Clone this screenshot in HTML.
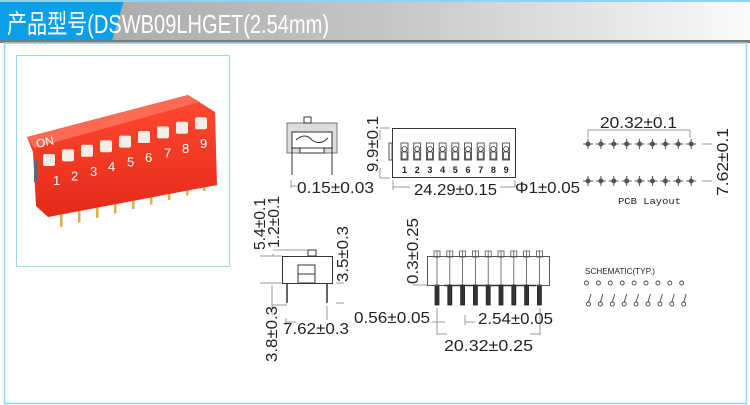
<!DOCTYPE html>
<html><head><meta charset="utf-8"><style>
html,body{margin:0;padding:0;background:#fff}
svg{display:block}
text{font-family:"Liberation Sans","Noto Sans CJK SC",sans-serif;fill:#222}
</style></head><body>
<svg width="750" height="405" viewBox="0 0 750 405" xmlns="http://www.w3.org/2000/svg">
<defs>
<linearGradient id="g" x1="0" x2="1" y1="0" y2="0">
<stop offset="0" stop-color="#a2a2a2"/><stop offset="0.5" stop-color="#c4c4c4"/><stop offset="1" stop-color="#fafafa"/>
</linearGradient>
<linearGradient id="red" x1="0" y1="0" x2="0" y2="1"><stop offset="0" stop-color="#ff4a30"/><stop offset="1" stop-color="#e42a18"/></linearGradient>
</defs>
<rect x="0" y="0" width="750" height="41" fill="url(#g)"/>
<polygon points="0,0 124,0 112,41 0,41" fill="#0aa0e8"/>
<rect x="0" y="0" width="750" height="2" fill="#8fd3f3"/>
<rect x="0" y="40" width="750" height="3" fill="#7a7a7a"/>
<text x="7" y="33" font-size="26" style="fill:#fff" textLength="322" lengthAdjust="spacingAndGlyphs">产品型号(DSWB09LHGET(2.54mm)</text>
<rect x="4.5" y="43" width="742" height="360.5" fill="none" stroke="#8dd6f5" stroke-width="1.5"/>
<rect x="16.5" y="55.5" width="213" height="211" fill="#fff" stroke="#9bd9f5" stroke-width="1"/>
<!-- photo -->
<g transform="translate(0 40)">
<g fill="#d9b24a">
<rect x="60" y="174" width="2.5" height="13"/><rect x="78" y="169.5" width="2.5" height="13"/><rect x="96" y="165" width="2.5" height="13"/><rect x="114" y="160.5" width="2.5" height="13"/><rect x="132" y="156" width="2.5" height="13"/><rect x="150" y="151.5" width="2.5" height="13"/><rect x="168" y="147" width="2.5" height="13"/><rect x="186" y="142.5" width="2.5" height="13"/><rect x="203" y="138" width="2.5" height="13"/>
</g>
<polygon points="27,97 188,55 215,72 217,145 48,177 36,166 33,112" fill="url(#red)"/>
<polygon points="27,97 188,55 200,62 34,108" fill="#ff6a52"/>
<rect x="34" y="120" width="4" height="22" fill="#666"/>
<text x="37" y="108" font-size="12" style="fill:#fff" transform="rotate(-12 37 108)">ON</text>
<g fill="#f5eee8">
<rect x="43" y="114" width="12" height="12" rx="2"/><rect x="62" y="109.4" width="12" height="12" rx="2"/><rect x="81" y="104.8" width="12" height="12" rx="2"/><rect x="100" y="100.2" width="12" height="12" rx="2"/><rect x="119" y="95.6" width="12" height="12" rx="2"/><rect x="138" y="91" width="12" height="12" rx="2"/><rect x="157" y="86.4" width="12" height="12" rx="2"/><rect x="176" y="81.8" width="12" height="12" rx="2"/><rect x="195" y="77.2" width="12" height="12" rx="2"/>
</g>
<g font-size="13">
<text x="53" y="145" style="fill:#fff">1</text><text x="71" y="140.4" style="fill:#fff">2</text><text x="90" y="135.8" style="fill:#fff">3</text><text x="108" y="131.2" style="fill:#fff">4</text><text x="127" y="126.6" style="fill:#fff">5</text><text x="145" y="122" style="fill:#fff">6</text><text x="164" y="117.4" style="fill:#fff">7</text><text x="182" y="112.8" style="fill:#fff">8</text><text x="200" y="108.2" style="fill:#fff">9</text>
</g>
</g>
<!-- side view top -->
<g stroke="#333" fill="none">
<rect x="287" y="123" width="50" height="30" fill="#ddd" stroke="#777"/>
<rect x="292" y="132" width="40" height="16" fill="#fff"/>
<rect x="304" y="117" width="7" height="6" fill="#fff"/>
<path d="M296 140 Q305 132 312 140 Q320 146 328 138" />
<rect x="300" y="148" width="24" height="5" fill="#fff"/>
<line x1="292" y1="148" x2="292" y2="175"/><line x1="332" y1="148" x2="332" y2="175"/>
</g>
<line x1="291" y1="180" x2="291" y2="188" stroke="#999"/>
<line x1="291" y1="186" x2="297" y2="186" stroke="#999"/>
<text x="297" y="193" font-size="16" textLength="77" lengthAdjust="spacingAndGlyphs">0.15±0.03</text>
<!-- top view -->
<rect x="392.5" y="128.5" width="123" height="49" fill="#fff" stroke="#333"/>
<rect x="389" y="143" width="3" height="17" fill="#fff" stroke="#555"/>
<g stroke="#333" fill="#fff" stroke-width="0.8">
<g id="sw"><rect x="401" y="143" width="7" height="17"/><circle cx="404.5" cy="149" r="2.5"/><rect x="402" y="152" width="5" height="7"/></g>
<use href="#sw" x="12.7"/><use href="#sw" x="25.4"/><use href="#sw" x="38.1"/><use href="#sw" x="50.8"/><use href="#sw" x="63.5"/><use href="#sw" x="76.2"/><use href="#sw" x="88.9"/><use href="#sw" x="101.6"/>
</g>
<g font-size="9" font-weight="bold">
<text x="402" y="173">1</text><text x="414.7" y="173">2</text><text x="427.4" y="173">3</text><text x="440.1" y="173">4</text><text x="452.8" y="173">5</text><text x="465.5" y="173">6</text><text x="478.2" y="173">7</text><text x="490.9" y="173">8</text><text x="503.6" y="173">9</text>
</g>
<g stroke="#999" fill="none"><path d="M380 128H390M380 178H390M380 130V140M380 168V178M393 180V190M393 187H410M500 187H515M515 180V187"/></g>
<text transform="translate(378 172) rotate(-90)" font-size="16" textLength="56" lengthAdjust="spacingAndGlyphs">9.9±0.1</text>
<text x="414" y="195" font-size="16" textLength="83" lengthAdjust="spacingAndGlyphs">24.29±0.15</text>
<text x="515" y="193" font-size="16" textLength="65" lengthAdjust="spacingAndGlyphs">Φ1±0.05</text>
<!-- PCB -->
<g stroke="#999" fill="none"><path d="M588 138V130H690V138M702 144H712M702 181H712"/></g>
<text x="600" y="128" font-size="16" textLength="77" lengthAdjust="spacingAndGlyphs">20.32±0.1</text>
<text transform="translate(728 196) rotate(-90)" font-size="16" textLength="68" lengthAdjust="spacingAndGlyphs">7.62±0.1</text>
<g fill="#555" stroke="#555">
<g id="pp"><path d="M583 144H593M588 139V149" stroke-width="1"/><circle cx="588" cy="144" r="2"/></g>
<use href="#pp" x="12.9"/><use href="#pp" x="25.8"/><use href="#pp" x="38.7"/><use href="#pp" x="51.6"/><use href="#pp" x="64.5"/><use href="#pp" x="77.4"/><use href="#pp" x="90.3"/><use href="#pp" x="103.2"/>
<use href="#pp" y="37"/><use href="#pp" x="12.9" y="37"/><use href="#pp" x="25.8" y="37"/><use href="#pp" x="38.7" y="37"/><use href="#pp" x="51.6" y="37"/><use href="#pp" x="64.5" y="37"/><use href="#pp" x="77.4" y="37"/><use href="#pp" x="90.3" y="37"/><use href="#pp" x="103.2" y="37"/>
</g>
<text x="618" y="204" font-size="9.5" style="font-family:'Liberation Mono',monospace" textLength="63" lengthAdjust="spacingAndGlyphs">PCB Layout</text>
<!-- side view bottom -->
<g stroke="#333" fill="#fff">
<rect x="308" y="250" width="8" height="6"/>
<rect x="282.5" y="256.5" width="50" height="27"/>
<rect x="298" y="265" width="17" height="18"/>
<line x1="298" y1="274" x2="315" y2="274"/>
<line x1="287" y1="283" x2="287" y2="303" stroke-width="1.5"/><line x1="327" y1="283" x2="327" y2="303" stroke-width="1.5"/>
</g>
<g stroke="#999" fill="none"><path d="M260 256H282M260 283H282M273 250H308M273 254V256M272 285V315M272 305H287M286 318V325M327 306V320M336 283H344M336 303H344M286 322H296"/></g>
<text transform="translate(265 250) rotate(-90)" font-size="16" textLength="52" lengthAdjust="spacingAndGlyphs">5.4±0.1</text>
<text transform="translate(279 248) rotate(-90)" font-size="16" textLength="52" lengthAdjust="spacingAndGlyphs">1.2±0.1</text>
<text transform="translate(348 282) rotate(-90)" font-size="16" textLength="56" lengthAdjust="spacingAndGlyphs">3.5±0.3</text>
<text transform="translate(277 362) rotate(-90)" font-size="16" textLength="56" lengthAdjust="spacingAndGlyphs">3.8±0.3</text>
<text x="283" y="334" font-size="16" textLength="66" lengthAdjust="spacingAndGlyphs">7.62±0.3</text>
<!-- front view -->
<g stroke="#555" fill="#fff" stroke-width="0.8">
<g id="pt"><rect x="434" y="251" width="6" height="6"/><line x1="437" y1="251" x2="437" y2="285"/><rect x="435" y="285" width="4" height="20" fill="#333" stroke="#222"/></g>
<use href="#pt" x="12.8"/><use href="#pt" x="25.6"/><use href="#pt" x="38.4"/><use href="#pt" x="51.2"/><use href="#pt" x="64"/><use href="#pt" x="76.8"/><use href="#pt" x="89.6"/><use href="#pt" x="102.4"/>
</g>
<rect x="427.5" y="256.5" width="122" height="29" fill="none" stroke="#555"/>
<line x1="444" y1="285.5" x2="536" y2="285.5" stroke="#333" stroke-width="1.5"/>
<g stroke="#999" fill="none"><path d="M413 285H427M437 308V335M540 308V335M437 334H447M530 334H540M432 322H445M465 315V325M465 322H475"/></g>
<text transform="translate(418 284) rotate(-90)" font-size="16" textLength="66" lengthAdjust="spacingAndGlyphs">0.3±0.25</text>
<text x="354" y="323" font-size="16" textLength="76" lengthAdjust="spacingAndGlyphs">0.56±0.05</text>
<text x="478" y="324" font-size="16" textLength="75" lengthAdjust="spacingAndGlyphs">2.54±0.05</text>
<text x="444" y="351" font-size="16" textLength="89" lengthAdjust="spacingAndGlyphs">20.32±0.25</text>
<!-- schematic -->
<text x="585" y="274" font-size="8.5" textLength="70" lengthAdjust="spacingAndGlyphs">SCHEMATIC(TYP.)</text>
<g stroke="#444" fill="none" stroke-width="0.9">
<g id="sc"><circle cx="586.5" cy="283" r="2"/><circle cx="588.5" cy="304" r="2"/><line x1="588.5" y1="302" x2="591" y2="294"/></g>
<use href="#sc" x="11.9"/><use href="#sc" x="23.8"/><use href="#sc" x="35.7"/><use href="#sc" x="47.6"/><use href="#sc" x="59.5"/><use href="#sc" x="71.4"/><use href="#sc" x="83.3"/><use href="#sc" x="95.2"/>
</g>
</svg>
</body></html>
